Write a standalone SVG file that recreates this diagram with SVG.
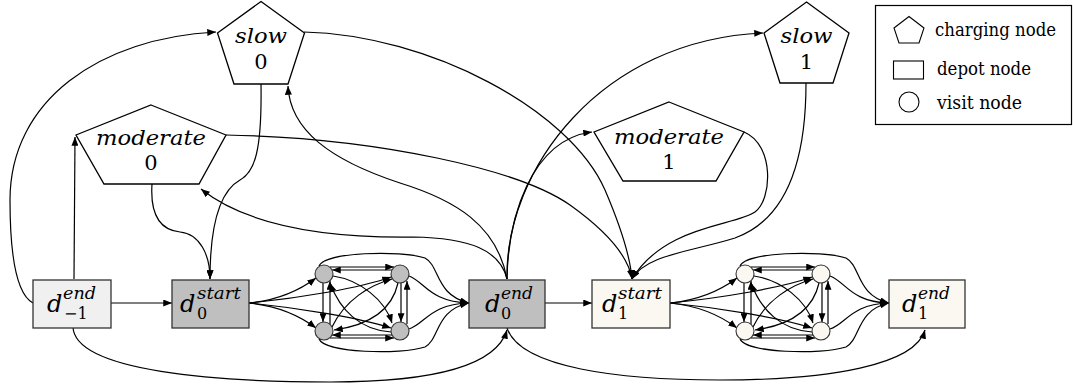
<svg xmlns="http://www.w3.org/2000/svg" width="1073" height="385" viewBox="0 0 1073 385">
<defs>
<marker id="ah" viewBox="0 0 10 8" refX="10" refY="4" markerWidth="9" markerHeight="7" markerUnits="userSpaceOnUse" orient="auto"><path d="M0,0 L10,4 L0,8 z" fill="#000"/></marker>
<style>
.e{fill:none;stroke:#000;stroke-width:1.2;marker-end:url(#ah)}
.pent{fill:#fff;stroke:#000;stroke-width:1.3}
.box{stroke:#333;stroke-width:1.3}
.vis{stroke:#333;stroke-width:1.1}
.g0{fill:#bfbfbf}
.g1{fill:#faf8f0}
.gm{fill:#f0f0f0}
.m{font-family:'DejaVu Serif','Liberation Serif',serif;font-style:italic;fill:#000}
.r{font-family:'DejaVu Serif','Liberation Serif',serif;fill:#000}
</style>
</defs>
<g id="connectors">
<path class="e" d="M111,303 L172,303"/>
<path class="e" d="M74,279 L75,137"/>
<path class="e" d="M33,303 C18,295 10,260 10,200 C10,100 100,38 216,32"/>
<path class="e" d="M73,327 C75,372 220,382 330,382 C420,382 495,370 507,330"/>
<path class="e" d="M261,84 C262,150 255,172 240,180 C222,190 210,220 210,279"/>
<path class="e" d="M152,184 C150,215 160,230 180,232 C200,234 210,255 210,279"/>
<path class="e" d="M507,279 C497,225 455,200 400,183 C330,160 290,130 288,86"/>
<path class="e" d="M507,279 C500,250 470,238 413,237 C330,238 250,228 201,189"/>
<path class="e" d="M507,279 C505,170 600,40 763,33"/>
<path class="e" d="M507,279 C508,220 530,140 592,132"/>
<path class="e" d="M545,303 L592,303"/>
<path class="e" d="M507,328 C520,368 620,380 720,380 C830,380 915,365 925,330"/>
<path class="e" d="M304,32 C430,35 570,110 605,190 C620,225 630,255 632,279"/>
<path class="e" d="M226,135 C380,138 520,170 570,205 C605,230 628,255 632,279"/>
<path class="e" d="M744,132 C775,145 772,200 755,212 C735,226 665,225 632,279"/>
<path class="e" d="M806,83 C806,165 785,220 735,238 C690,252 645,255 632,279"/>
<g id="cluster0-edges">
<path class="e" d="M249,303 C280,300 300,290 316,278"/>
<path class="e" d="M249,303 C280,306 300,316 316,328"/>
<path class="e" d="M249,303 C300,298 360,288 391,277"/>
<path class="e" d="M249,303 C300,308 360,318 391,328"/>
<path class="e" d="M330,267 L394,267"/>
<path class="e" d="M392,270 L332,270"/>
<path class="e" d="M330,338 L394,338"/>
<path class="e" d="M392,335 L332,335"/>
<path class="e" d="M323,283 L323,322"/>
<path class="e" d="M330,324 L330,281"/>
<path class="e" d="M401,283 L401,322"/>
<path class="e" d="M407,324 L407,281"/>
<path class="e" d="M333,276 C360,280 385,300 392,323"/>
<path class="e" d="M391,332 C360,330 340,310 330,283"/>
<path class="e" d="M332,327 C345,300 370,285 392,279"/>
<path class="e" d="M398,283 C392,310 370,325 334,330"/>
<path class="e" d="M409,276 C425,282 430,302 469,303"/>
<path class="e" d="M409,329 C425,324 430,304 469,303"/>
<path class="e" d="M319,266 C325,252 400,250 425,258 C440,266 435,295 469,303"/>
<path class="e" d="M319,339 C325,353 400,355 425,347 C440,339 435,310 469,303"/>
</g>
<g id="cluster1-edges" transform="translate(421,0)">
<path class="e" d="M249,303 C280,300 300,290 316,278"/>
<path class="e" d="M249,303 C280,306 300,316 316,328"/>
<path class="e" d="M249,303 C300,298 360,288 391,277"/>
<path class="e" d="M249,303 C300,308 360,318 391,328"/>
<path class="e" d="M330,267 L394,267"/>
<path class="e" d="M392,270 L332,270"/>
<path class="e" d="M330,338 L394,338"/>
<path class="e" d="M392,335 L332,335"/>
<path class="e" d="M323,283 L323,322"/>
<path class="e" d="M330,324 L330,281"/>
<path class="e" d="M401,283 L401,322"/>
<path class="e" d="M407,324 L407,281"/>
<path class="e" d="M333,276 C360,280 385,300 392,323"/>
<path class="e" d="M391,332 C360,330 340,310 330,283"/>
<path class="e" d="M332,327 C345,300 370,285 392,279"/>
<path class="e" d="M398,283 C392,310 370,325 334,330"/>
<path class="e" d="M409,276 C425,282 430,302 468,303"/>
<path class="e" d="M409,329 C425,324 430,304 468,303"/>
<path class="e" d="M319,266 C325,252 400,250 425,258 C440,266 435,295 468,303"/>
<path class="e" d="M319,339 C325,353 400,355 425,347 C440,339 435,310 468,303"/>
</g>
</g>
<g id="slow0">
<polygon class="pent" points="261,1.5 304.5,33 288,84 234,84 217.5,33"/>
<text class="m" x="261" y="43" font-size="21" text-anchor="middle" textLength="52" lengthAdjust="spacingAndGlyphs">slow</text>
<text class="r" x="261" y="69" font-size="21" text-anchor="middle">0</text>
</g>
<g id="slow1">
<polygon class="pent" points="806.5,2 849,33 833,83 780,83 764,33"/>
<text class="m" x="806.5" y="43" font-size="21" text-anchor="middle" textLength="52" lengthAdjust="spacingAndGlyphs">slow</text>
<text class="r" x="806.5" y="69" font-size="21" text-anchor="middle">1</text>
</g>
<g id="moderate0">
<polygon class="pent" points="151,105 226,135 199,184 104,184 76,135"/>
<text class="m" x="151" y="145" font-size="21" text-anchor="middle" textLength="110" lengthAdjust="spacingAndGlyphs">moderate</text>
<text class="r" x="151" y="170" font-size="21" text-anchor="middle">0</text>
</g>
<g id="moderate1">
<polygon class="pent" points="669,102 744,132 716,181 623,181 594,132"/>
<text class="m" x="669" y="144" font-size="21" text-anchor="middle" textLength="110" lengthAdjust="spacingAndGlyphs">moderate</text>
<text class="r" x="669" y="169" font-size="21" text-anchor="middle">1</text>
</g>
<g id="d-1end">
<rect class="box gm" x="33" y="280" width="78" height="48"/>
<text class="m" x="47" y="312" font-size="24">d</text>
<text class="m" x="63" y="299" font-size="16" textLength="33" lengthAdjust="spacingAndGlyphs">end</text>
<text class="r" x="64" y="319" font-size="16">−1</text>
</g>
<g id="d0start">
<rect class="box g0" x="172" y="280" width="77" height="48"/>
<text class="m" x="180" y="312" font-size="24">d</text>
<text class="m" x="197" y="299" font-size="16" textLength="44" lengthAdjust="spacingAndGlyphs">start</text>
<text class="r" x="197" y="319" font-size="16">0</text>
</g>
<g id="d0end">
<rect class="box g0" x="469" y="280" width="76" height="48"/>
<text class="m" x="485" y="312" font-size="24">d</text>
<text class="m" x="501" y="299" font-size="16" textLength="32" lengthAdjust="spacingAndGlyphs">end</text>
<text class="r" x="501" y="319" font-size="16">0</text>
</g>
<g id="d1start">
<rect class="box g1" x="592" y="280" width="78" height="48"/>
<text class="m" x="602" y="312" font-size="24">d</text>
<text class="m" x="618" y="299" font-size="16" textLength="44" lengthAdjust="spacingAndGlyphs">start</text>
<text class="r" x="618" y="319" font-size="16">1</text>
</g>
<g id="d1end">
<rect class="box g1" x="889" y="280" width="76" height="48"/>
<text class="m" x="902" y="312" font-size="24">d</text>
<text class="m" x="918" y="299" font-size="16" textLength="32" lengthAdjust="spacingAndGlyphs">end</text>
<text class="r" x="918" y="319" font-size="16">1</text>
</g>
<g id="visit0">
<circle class="vis g0" cx="324" cy="274" r="9"/>
<circle class="vis g0" cx="400" cy="274" r="9"/>
<circle class="vis g0" cx="324" cy="331" r="9"/>
<circle class="vis g0" cx="400" cy="331" r="9"/>
</g>
<g id="visit1">
<circle class="vis g1" cx="745" cy="274" r="9"/>
<circle class="vis g1" cx="821" cy="274" r="9"/>
<circle class="vis g1" cx="745" cy="331" r="9"/>
<circle class="vis g1" cx="821" cy="331" r="9"/>
</g>
<g id="legend">
<rect x="875.5" y="5.5" width="196" height="119" fill="#fff" stroke="#000" stroke-width="1.2"/>
<polygon points="909,16.5 924,28 919,43 899,43 894,28" fill="#fff" stroke="#000" stroke-width="1.1"/>
<text class="r" x="935" y="36" font-size="18" textLength="121" lengthAdjust="spacingAndGlyphs">charging node</text>
<rect x="893.5" y="61" width="30" height="18" fill="#fff" stroke="#000" stroke-width="1.1"/>
<text class="r" x="937" y="75" font-size="18" textLength="94" lengthAdjust="spacingAndGlyphs">depot node</text>
<circle cx="909" cy="102" r="10" fill="#fff" stroke="#000" stroke-width="1.1"/>
<text class="r" x="937" y="109" font-size="18" textLength="85" lengthAdjust="spacingAndGlyphs">visit node</text>
</g>
</svg>
